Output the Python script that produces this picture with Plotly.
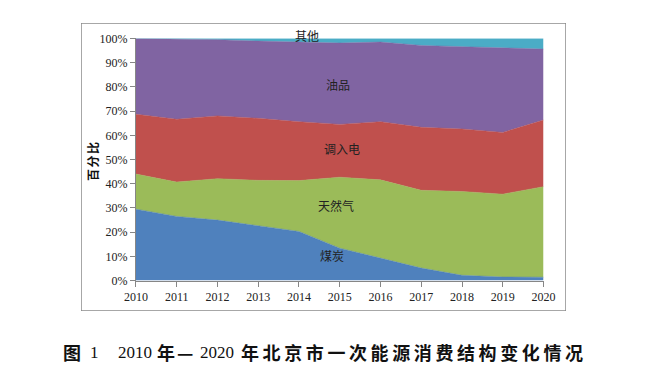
import plotly.graph_objects as go

years = [2010, 2011, 2012, 2013, 2014, 2015, 2016, 2017, 2018, 2019, 2020]
coal = [29.5, 26.5, 25.0, 22.8, 20.3, 13.4, 9.3, 5.2, 2.2, 1.5, 1.4]
gas = [14.5, 14.2, 17.1, 18.6, 21.0, 29.3, 32.3, 32.1, 34.6, 34.2, 37.4]
elec = [24.7, 25.9, 25.9, 25.6, 24.3, 21.8, 24.0, 26.0, 25.8, 25.5, 27.5]
oil = [31.3, 33.2, 31.5, 31.9, 32.9, 33.6, 32.9, 33.8, 34.0, 35.0, 29.3]
other = [0.0, 0.2, 0.5, 1.1, 1.5, 1.9, 1.5, 2.9, 3.4, 3.8, 4.4]

series_names = ["煤炭", "天然气", "调入电", "油品", "其他"]
series_vals = [coal, gas, elec, oil, other]
colors = ["#4F81BD", "#9BBB59", "#C0504D", "#8064A2", "#4BACC6"]
label_pos = {"煤炭": (2014.8, 10.3, 0), "天然气": (2014.9, 30.9, 0), "调入电": (2015.05, 54.7, 0),
             "油品": (2014.95, 81.0, 0), "其他": (2014.2, 100.0, 3)}

# frame outline in the frame subplot's own unit coordinates
frame_x = [0, 1, 1, 0, 0]
frame_y = [0, 0, 1, 1, 0]

# Page layout (page pixels; the figure sits 8px in from the page corner).
FX0, FX1, FY0, FY1 = 81.0, 566.5, 22.5, 311.5
FW, FH = FX1 - FX0, FY1 - FY0
def px(x):
    return (x - FX0) / FW
def py(y):
    return (FY1 - y) / FH

xdom = [px(136), px(544)]
ydom = [py(281), py(38)]

fig = go.Figure()
# frame subplot first so it lies underneath
fig.add_trace(go.Scatter(x=frame_x, y=frame_y, xaxis="x2", yaxis="y2", mode="lines",
                         line=dict(color="#8a8a8a", width=1.5), cliponaxis=False,
                         showlegend=False, hoverinfo="skip"))
for name, vals, c in zip(series_names, series_vals, colors):
    fig.add_trace(go.Scatter(x=years, y=vals, name=name, mode="lines",
                             stackgroup="one", line=dict(width=0.5, color=c),
                             fillcolor=c, hoverinfo="x+y+name"))

for name in series_names:
    x, y, ys = label_pos[name]
    fig.add_annotation(x=x, y=y, xref="x", yref="y", text=name, showarrow=False,
                       xanchor="center", yanchor="middle", yshift=ys,
                       font=dict(family="Noto Sans CJK SC", size=12, color="#222222"))

fig.add_annotation(x=px(92), y=py(160), xref="paper", yref="paper",
                   text="<b><span style='letter-spacing:1.5px'>百分比</span></b>",
                   textangle=-90, showarrow=False, xanchor="center", yanchor="middle",
                   font=dict(family="Noto Sans CJK SC", size=12, color="#111111"))

cap_parts = [
    ("图", 61, "Noto Sans CJK SC", True, 18, 0),
    ("1", 88, "Liberation Serif", False, 17, 0),
    ("2010", 116.5, "Liberation Serif", False, 17, 0),
    ("年—", 155, "Noto Sans CJK SC", True, 18, 2),
    ("2020", 198, "Liberation Serif", False, 17, 0),
    ("年北京市一次能源消费结构变化情况", 239, "Noto Sans CJK SC", True, 18, 3.6),
]
for txt, x0, fam, bold, sz, ls in cap_parts:
    t = f"<span style='letter-spacing:{ls}px'>{txt}</span>" if ls else txt
    if bold:
        t = f"<b>{t}</b>"
    fig.add_annotation(x=px(x0), y=py(353), xref="paper", yref="paper", text=t,
                       xanchor="left", yanchor="middle", showarrow=False,
                       font=dict(family=fam, size=sz, color="#111111"))

axis_font = dict(family="Liberation Serif", size=12, color="#222222")
fig.update_layout(
    width=651, height=377,
    margin=dict(l=73, r=651 - 73 - FW, t=14.5, b=377 - 14.5 - FH, autoexpand=False),
    paper_bgcolor="white", plot_bgcolor="rgba(0,0,0,0)",
    showlegend=False,
    xaxis=dict(domain=xdom, anchor="y", range=[2010, 2020], tickmode="array", tickvals=years,
               ticktext=[str(y) for y in years], showgrid=False, zeroline=False,
               showline=True, linecolor="#868686", linewidth=1,
               ticks="outside", ticklen=5, tickcolor="#868686", tickfont=axis_font),
    yaxis=dict(domain=ydom, anchor="x", range=[0, 100], tickmode="array",
               tickvals=list(range(0, 101, 10)),
               ticktext=[f"{v}%" for v in range(0, 101, 10)], showgrid=False,
               zeroline=False, showline=True, linecolor="#868686", linewidth=1,
               ticks="outside", ticklen=5, tickcolor="#868686", tickfont=axis_font),
    xaxis2=dict(domain=[0, 1], anchor="y2", range=[0, 1], showline=False,
                showgrid=False, zeroline=False, visible=False, fixedrange=True),
    yaxis2=dict(domain=[0, 1], anchor="x2", range=[0, 1], showline=False,
                showgrid=False, zeroline=False, visible=False, fixedrange=True),
)

fig.write_html("out.html")
